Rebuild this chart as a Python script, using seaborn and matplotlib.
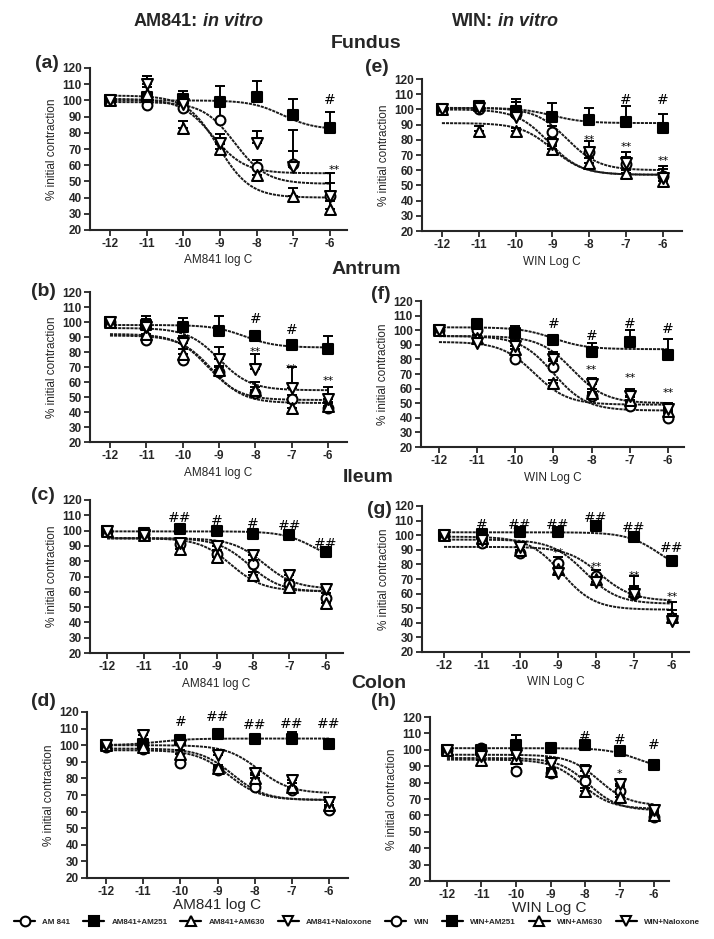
import numpy as np
import matplotlib
matplotlib.use("Agg")
import matplotlib.pyplot as plt
from matplotlib.lines import Line2D
import seaborn as sns

# concentrations (log M)
log_c = [-12, -11, -10, -9, -8, -7, -6]
y_ticks = [20, 30, 40, 50, 60, 70, 80, 90, 100, 110, 120]
series_names = ["alone", "AM251", "AM630", "Naloxone"]

# ---- (a) AM841 fundus ----
a_alone = [100, 97, 95, 88, 59, 61, 41]
a_am251 = [100, 102, 101, 99, 102, 91, 83]
a_am630 = [100, 104, 83, 70, 54, 41, 33]
a_nalox = [100, 110, 98, 74, 74, 59, 41]
a_err = [[1, 2, 3, 8, 4, 8, 8], [1, 13, 5, 10, 10, 10, 10], [1, 4, 4, 3, 5, 5, 5], [1, 5, 3, 5, 7, 23, 14]]
a_fit = [[99, 48.5, -8.6], [100, 82, -7.3], [103, 40, -9.05], [101, 55, -9.2]]  # top, bottom, logEC50
a_marks = [(-6, 100, "#"), (-5.9, 57, "**")]

# ---- (b) AM841 antrum ----
b_alone = [100, 88, 74.5, 67, 53, 48.5, 43]
b_am251 = [100, 98, 96.5, 94, 91, 85, 82]
b_am630 = [100, 92, 79, 68, 55, 43, 44]
b_nalox = [100, 97, 86, 75.5, 68.5, 56, 49]
b_err = [[1, 3, 4, 3, 4, 3, 3], [2, 6, 6, 10, 2, 1, 9], [1, 4, 3, 3, 5, 3, 3], [1, 5, 5, 8, 10, 14, 8]]
b_fit = [[92, 48, -9.3], [98, 83, -8.3], [91, 46, -9.2], [96, 54.5, -9.0]]
b_marks = [(-8, 102, "#"), (-7, 95, "#"), (-8, 80, "**"), (-7, 69, "**"), (-6, 61, "**")]

# ---- (c) AM841 ileum ----
c_alone = [100, 98, 91, 85, 78, 65, 56]
c_am251 = [100, 98.5, 101, 100, 98, 97, 86]
c_am630 = [100, 97, 88, 83, 71, 63, 53]
c_nalox = [100, 97, 92, 90, 84, 71, 62]
c_err = [[1, 1, 2, 2, 3, 3, 3], [1, 1, 1, 1, 1, 1, 1], [1, 1, 2, 2, 2, 2, 2], [1, 1, 1, 2, 2, 3, 2]]
c_fit = [[95, 60, -8.1], [99.5, 78, -6.3], [95, 60.5, -8.6], [95, 62, -7.7]]
c_marks = [(-10, 108, "##"), (-9, 106, "#"), (-8, 104, "#"), (-7, 103, "##"), (-6, 91.5, "##")]

# ---- (d) AM841 colon ----
d_alone = [99, 98, 89, 85, 75, 73, 61]
d_am251 = [100, 101, 103, 107, 104, 104, 101]
d_am630 = [100, 99, 95, 86, 80, 75, 64]
d_nalox = [100, 106, 100, 94, 83, 79, 66]
d_err = [[1, 2, 2, 2, 2, 2, 2], [1, 1, 1, 1, 1, 4, 1], [1, 2, 2, 2, 2, 2, 2], [1, 3, 2, 2, 2, 2, 3]]
d_fit = [[97, 67, -8.7], [100, 104, -10.6], [98, 67, -8.6], [100, 71, -7.9]]
d_marks = [(-10, 114, "#"), (-9, 117, "##"), (-8, 112, "##"), (-7, 113, "##"), (-6, 113, "##")]

# ---- (e) WIN fundus ----
e_alone = [100, 100, 97, 85, 72, 64, 56]
e_am251 = [100, 102, 99, 95, 93, 92, 88]
e_am630 = [100, 86, 86, 74, 65, 58, 53]
e_nalox = [100, 101, 95, 77, 72, 65, 55]
e_err = [[1, 1, 8, 4, 3, 8, 5], [1, 1, 8, 9, 8, 10, 9], [1, 3, 2, 2, 3, 2, 2], [1, 2, 10, 4, 7, 4, 8]]
e_fit = [[101, 60, -8.6], [101, 91, -9.0], [91, 57, -9.0], [100, 57, -9.1]]
e_marks = [(-7, 106, "#"), (-6, 106, "#"), (-8, 80, "**"), (-7, 75, "**"), (-6, 66, "**")]

# ---- (f) WIN antrum ----
f_alone = [100, 100, 80, 75, 55, 48, 40]
f_am251 = [100, 104, 98, 93, 85, 92, 83]
f_am630 = [100, 95, 87, 64, 57, 52, 45]
f_nalox = [100, 91, 89, 80, 63, 55, 46]
f_err = [[1, 2, 4, 4, 3, 3, 3], [1, 2, 5, 3, 6, 8, 11], [1, 2, 2, 2, 3, 2, 2], [1, 2, 5, 5, 4, 5, 4]]
f_fit = [[96, 45, -9.0], [102, 87, -9.0], [92, 49, -9.5], [96, 50, -8.5]]
f_marks = [(-9, 104, "#"), (-8, 96, "#"), (-7, 104, "#"), (-6, 101, "#"),
           (-8, 73, "**"), (-7, 67, "**"), (-6, 57, "**")]

# ---- (g) WIN ileum ----
g_alone = [100, 95, 88, 81, 72, 60, 43]
g_am251 = [100, 101, 102, 102, 106, 99, 82]
g_am630 = [100, 98, 90, 77, 70, 62, 44]
g_nalox = [100, 97, 92, 74, 68, 60, 41]
g_err = [[1, 2, 2, 4, 4, 5, 3], [1, 2, 1, 1, 2, 3, 1], [1, 2, 2, 2, 3, 10, 10], [1, 2, 3, 3, 5, 4, 8]]
g_fit = [[97, 53, -8.3], [102, 72, -6.3], [92, 55, -7.9], [99, 49, -8.9]]
g_marks = [(-11, 107, "#"), (-10, 107, "##"), (-9, 107, "##"), (-8, 112, "##"), (-7, 105, "##"),
           (-6, 91, "##"), (-9, 88, "**"), (-8, 78, "**"), (-7, 72, "**"), (-6, 58, "**")]

# ---- (h) WIN colon ----
h_alone = [100, 101, 87, 86, 81, 75, 59]
h_am251 = [100, 100, 103, 101, 103, 99, 91]
h_am630 = [100, 94, 95, 87, 75, 71, 60]
h_nalox = [100, 96, 97, 92, 87, 79, 63]
h_err = [[1, 1, 2, 2, 3, 3, 2], [1, 1, 6, 1, 3, 1, 1], [1, 2, 3, 2, 2, 2, 2], [1, 2, 9, 2, 4, 3, 3]]
h_fit = [[95, 63, -7.9], [101, 88, -6.5], [94, 64, -8.1], [97, 66, -7.6]]
h_marks = [(-8, 108, "#"), (-7, 106, "#"), (-6, 103, "#"), (-7, 85, "*")]

legend_labels = ["AM 841", "AM841+AM251", "AM841+AM630", "AM841+Naloxone",
                 "WIN", "WIN+AM251", "WIN+AM630", "WIN+Naloxone"]

# marker styles: (marker, face, size)
styles = [("o", "white", 50), ("s", "black", 42), ("^", "white", 62), ("v", "white", 62)]

sns.set_style("ticks")
plt.rcParams["font.family"] = ["Liberation Sans", "DejaVu Sans"]
plt.rcParams["font.weight"] = "bold"
plt.rcParams["axes.unicode_minus"] = False

W, H = 714, 939
fig = plt.figure(figsize=(W / 100, H / 100), dpi=100)


def px_rect(left, right, top, bottom):
    return [left / W, 1 - bottom / H, (right - left) / W, (bottom - top) / H]


def logistic(fit, xs):
    top, bottom, ec50 = fit
    return bottom + (top - bottom) / (1 + 10 ** (xs - ec50))


def draw_panel(rect, xlim, means, errs, fits, marks, xlabel, xl_size=8.5, xl_pad=3):
    ax = fig.add_axes(rect)
    xs = np.linspace(-12, -6, 200)
    for fit in fits:
        sns.lineplot(x=xs, y=logistic(fit, xs), ax=ax, color="0.1", linewidth=1.4,
                     linestyle=(0, (1.6, 0.5)), zorder=1)
    for vals, err in zip(means, errs):
        ax.errorbar(log_c, vals, yerr=[np.zeros(len(err)), err], fmt="none", ecolor="black",
                    elinewidth=1.4, capsize=3.5, capthick=1.4, zorder=2, clip_on=False)
    for vals, (mk, face, size) in zip(means, styles):
        sns.scatterplot(x=log_c, y=vals, ax=ax, marker=mk, s=size, facecolor=face,
                        edgecolor="black", linewidth=1.5, zorder=3, clip_on=False)
    for x, y, txt in marks:
        fs = 10 if "#" in txt else 8
        ax.text(x, y, txt, ha="center", va="center", fontsize=fs, fontweight="normal",
                family="DejaVu Sans", color="black")
    ax.set_xlim(xlim)
    ax.set_ylim(20, 120)
    ax.set_xticks(log_c)
    ax.set_yticks(y_ticks)
    ax.tick_params(labelsize=8.5, width=1.3, length=4, pad=2)
    for s in ["left", "bottom"]:
        ax.spines[s].set_linewidth(1.5)
    sns.despine(ax=ax)
    ax.set_ylabel("% initial contraction", fontsize=8.5, labelpad=3)
    ax.set_xlabel(xlabel, fontsize=xl_size, labelpad=xl_pad)
    return ax


draw_panel(px_rect(90, 347, 68, 230), (-12.55, -5.54), [a_alone, a_am251, a_am630, a_nalox], a_err, a_fit, a_marks, "AM841 log C")
draw_panel(px_rect(90, 347, 292, 442), (-12.55, -5.48), [b_alone, b_am251, b_am630, b_nalox], b_err, b_fit, b_marks, "AM841 log C")
draw_panel(px_rect(90, 343, 500, 653), (-12.47, -5.53), [c_alone, c_am251, c_am630, c_nalox], c_err, c_fit, c_marks, "AM841 log C")
draw_panel(px_rect(87, 348, 712, 878), (-12.51, -5.49), [d_alone, d_am251, d_am630, d_nalox], d_err, d_fit, d_marks, "AM841 log C", 11, 0)
draw_panel(px_rect(422, 682, 79, 231), (-12.54, -5.48), [e_alone, e_am251, e_am630, e_nalox], e_err, e_fit, e_marks, "WIN Log C")
draw_panel(px_rect(421, 684, 301, 447), (-12.47, -5.58), [f_alone, f_am251, f_am630, f_nalox], f_err, f_fit, f_marks, "WIN Log C")
draw_panel(px_rect(422, 689, 506, 652), (-12.58, -5.55), [g_alone, g_am251, g_am630, g_nalox], g_err, g_fit, g_marks, "WIN Log C")
draw_panel(px_rect(430, 669, 717, 881), (-12.49, -5.57), [h_alone, h_am251, h_am630, h_nalox], h_err, h_fit, h_marks, "WIN Log C", 11, 0)

# column titles
fig.text(198 / W, 1 - 21 / H, "AM841:", ha="right", va="center", fontsize=13)
fig.text(203 / W, 1 - 21 / H, "in vitro", ha="left", va="center", fontsize=13, style="italic")
fig.text(493 / W, 1 - 21 / H, "WIN:", ha="right", va="center", fontsize=13)
fig.text(498 / W, 1 - 21 / H, "in vitro", ha="left", va="center", fontsize=13, style="italic")

# tissue names
for name, x, y in [("Fundus", 366, 43), ("Antrum", 366, 270), ("Ileum", 368, 478), ("Colon", 379, 684)]:
    fig.text(x / W, 1 - y / H, name, ha="center", va="center", fontsize=14)

# panel letters
for lab, x, y in [("(a)", 47, 63), ("(b)", 43, 292), ("(c)", 43, 496), ("(d)", 43, 701),
                  ("(e)", 377, 68), ("(f)", 381, 294), ("(g)", 379, 510), ("(h)", 384, 701)]:
    fig.text(x / W, 1 - y / H, lab, ha="center", va="center", fontsize=14)

handles = []
for mk, face, size in styles * 2:
    handles.append(Line2D([0], [0], color="black", lw=1.6, marker=mk, markersize=7,
                          markerfacecolor=face, markeredgecolor="black", markeredgewidth=1.5))
fig.legend(handles, legend_labels, loc="center", bbox_to_anchor=(0.5, 1 - 922 / H), ncol=8,
           frameon=False, fontsize=5.8, handlelength=2.6, columnspacing=1.6, handletextpad=0.9)

fig.savefig("out.png", dpi=100)
